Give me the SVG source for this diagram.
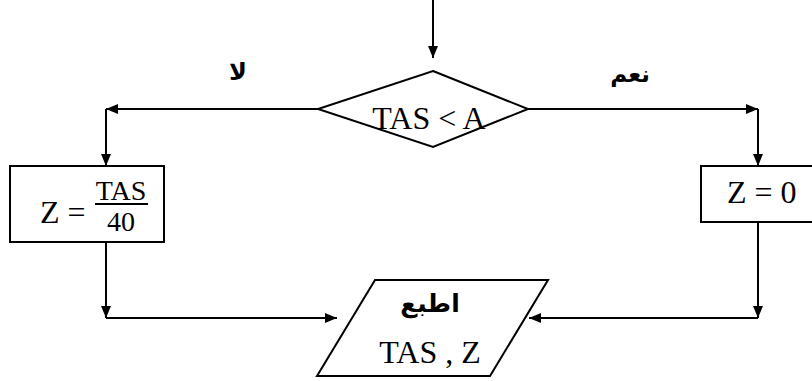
<svg xmlns="http://www.w3.org/2000/svg" width="812" height="381" viewBox="0 0 812 381">
<style>
.s{fill:none;stroke:#000;stroke-width:2}
.n{fill:#fff;stroke:#000;stroke-width:2}
.t{font-family:"Liberation Serif","Times New Roman",serif;fill:#000}
.a{font-family:"DejaVu Sans","Noto Sans",sans-serif;font-weight:bold;fill:#000}
</style>
<defs>
<marker id="ah" markerWidth="12" markerHeight="10" refX="12" refY="5" orient="auto" markerUnits="userSpaceOnUse">
<path d="M0,0 L12,5 L0,10 Z" fill="#000"/>
</marker>
</defs>
<g id="connectors">
<line class="s" x1="433" y1="0" x2="433" y2="58" marker-end="url(#ah)"/>
<polyline class="s" points="318,109 106,109" marker-end="url(#ah)"/>
<polyline class="s" points="106,109 106,166" marker-end="url(#ah)"/>
<polyline class="s" points="528,109 758,109" marker-end="url(#ah)"/>
<polyline class="s" points="758,109 758,166" marker-end="url(#ah)"/>
<polyline class="s" points="106,243 106,318" marker-end="url(#ah)"/>
<polyline class="s" points="106,318 337,318" marker-end="url(#ah)"/>
<polyline class="s" points="758,222 758,318" marker-end="url(#ah)"/>
<polyline class="s" points="758,318 529,318" marker-end="url(#ah)"/>
<text class="a" x="238" y="80" font-size="24" text-anchor="middle">لا</text>
<text class="a" x="630" y="82" font-size="23" text-anchor="middle">نعم</text>
</g>
<g id="decision">
<polygon class="n" points="433,71 528,109 433,147 318,109"/>
<text class="t" x="429" y="129" font-size="32" text-anchor="middle">TAS &lt; A</text>
</g>
<g id="calc">
<rect class="n" x="10" y="166" width="154" height="76"/>
<text class="t" x="40" y="223" font-size="32">Z =</text>
<text class="t" x="121" y="200" font-size="28" text-anchor="middle">TAS</text>
<line class="s" x1="95" y1="204" x2="148" y2="204" stroke-width="1.5"/>
<text class="t" x="121" y="231" font-size="28" text-anchor="middle">40</text>
</g>
<g id="zero">
<rect class="n" x="701" y="166" width="115" height="56"/>
<text class="t" x="727" y="203" font-size="32">Z = 0</text>
</g>
<g id="print">
<polygon class="n" points="375,280 548,280 490,376 317,376"/>
<text class="a" x="430" y="312" font-size="25" text-anchor="middle">اطبع</text>
<text class="t" x="430" y="363" font-size="32" text-anchor="middle">TAS , Z</text>
</g>
</svg>
